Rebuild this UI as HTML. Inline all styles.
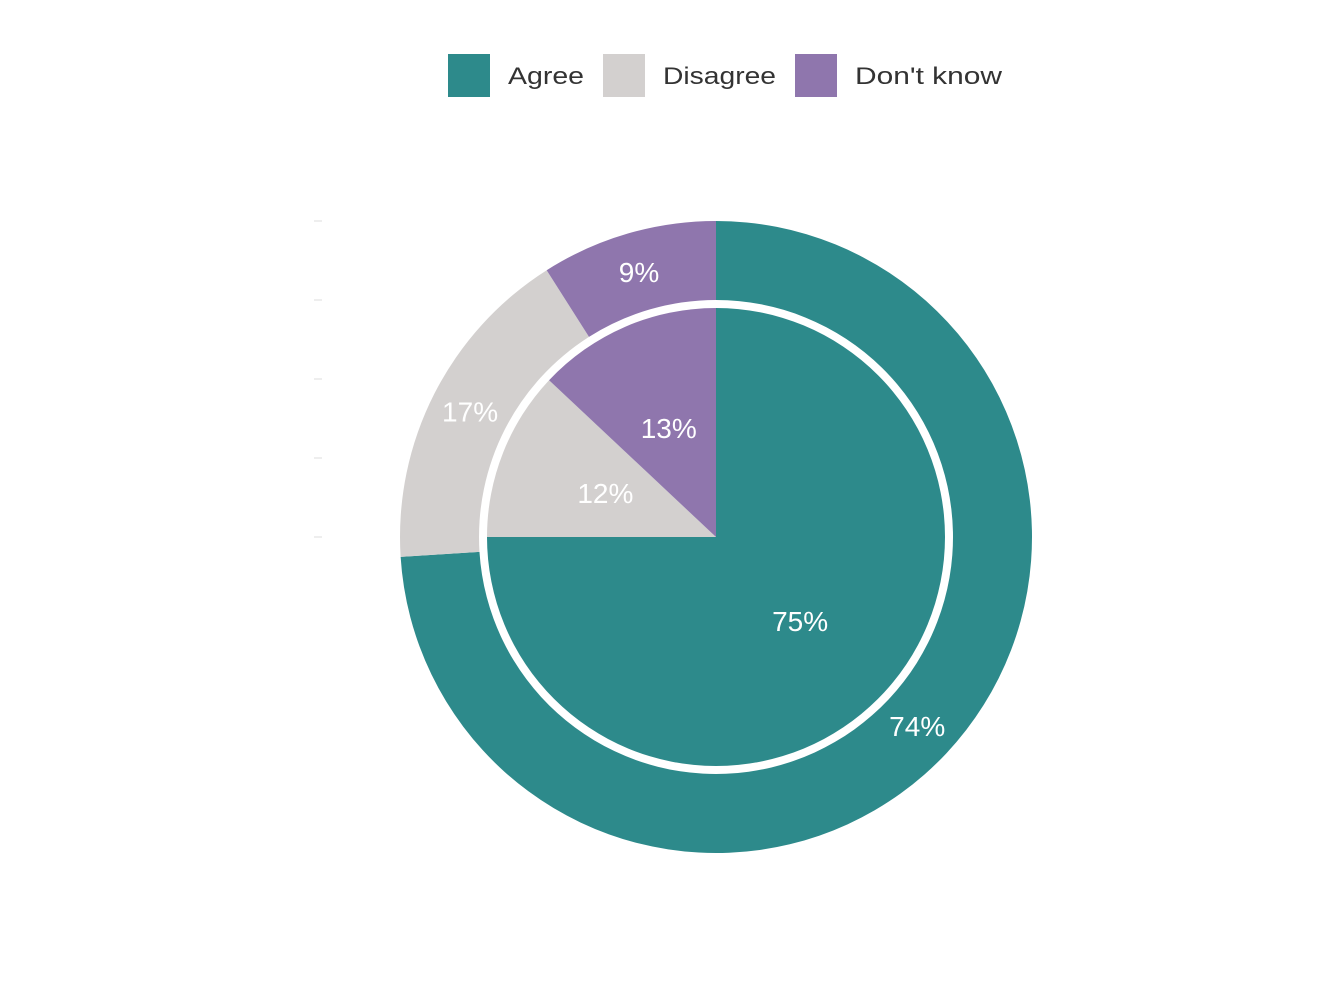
<!DOCTYPE html>
<html><head><meta charset="utf-8">
<style>
html,body{margin:0;padding:0;background:#fff;width:1344px;height:1008px;overflow:hidden;font-family:"Liberation Sans",sans-serif;}
</style></head>
<body>
<svg id="chart" width="1344" height="1008" xmlns="http://www.w3.org/2000/svg">
<g id="legend"></g>
<g id="ticks"></g>
<g id="outer"></g>
<g id="inner"></g>
<g id="labels"></g>
</svg>
<script>
const categories = ["Agree", "Disagree", "Don't know"];
const outerValues = [74, 17, 9];
const innerValues = [75, 12, 13];
const colors = ["#2D8A8B", "#D3D0CF", "#8F76AD"];
const NS = "http://www.w3.org/2000/svg";
const cx = 716, cy = 537;
function mk(tag, attrs, parent){const e=document.createElementNS(NS,tag);for(const k in attrs)e.setAttribute(k,attrs[k]);parent.appendChild(e);return e;}
function pt(r,a){return [cx+r*Math.sin(a), cy-r*Math.cos(a)];}
function arcPath(r0,r1,a0,a1){
  const large=(a1-a0)>Math.PI?1:0;
  const p1=pt(r1,a0),p2=pt(r1,a1);
  if(r0<=0) return `M${cx},${cy}L${p1[0]},${p1[1]}A${r1},${r1} 0 ${large} 1 ${p2[0]},${p2[1]}Z`;
  const p3=pt(r0,a1),p4=pt(r0,a0);
  return `M${p1[0]},${p1[1]}A${r1},${r1} 0 ${large} 1 ${p2[0]},${p2[1]}L${p3[0]},${p3[1]}A${r0},${r0} 0 ${large} 0 ${p4[0]},${p4[1]}Z`;
}
function drawRing(vals,r0,r1,labelR,group,prefix){
  const total=vals.reduce((a,b)=>a+b,0);let acc=0;
  vals.forEach((v,i)=>{
    const a0=acc/total*2*Math.PI;acc+=v;const a1=acc/total*2*Math.PI;
    const p=mk('path',{d:arcPath(r0,r1,a0,a1),fill:colors[i]},group);
    
    
    const m=(a0+a1)/2,lp=pt(labelR,m);
    const t=mk('text',{x:lp[0],y:lp[1]+10,'text-anchor':'middle','font-size':'28',fill:'#fff'},document.getElementById('labels'));
    t.textContent=v+'%';
    
    
  });
}
drawRing(outerValues,237,316,276,document.getElementById('outer'),'outer');
drawRing(innerValues,0,229,119,document.getElementById('inner'),'inner');
const tg=document.getElementById('ticks');
[221,300,379,458,537].forEach(y=>{
  const l=mk('line',{x1:314,x2:322,y1:y,y2:y,stroke:'#ddd','stroke-width':1},tg);
  
  
});
const lg=document.getElementById('legend');
const lx=[448,603,795];
const lw=[76,113,147];
categories.forEach((c,i)=>{
  const r=mk('rect',{x:lx[i],y:54,width:42,height:43,fill:colors[i]},lg);
  
  
  const t=mk('text',{x:lx[i]+60,y:84,'font-size':'24',fill:'#333',textLength:lw[i],lengthAdjust:'spacingAndGlyphs'},lg);
  t.textContent=c;
  
  
});
</script>
</body></html>
